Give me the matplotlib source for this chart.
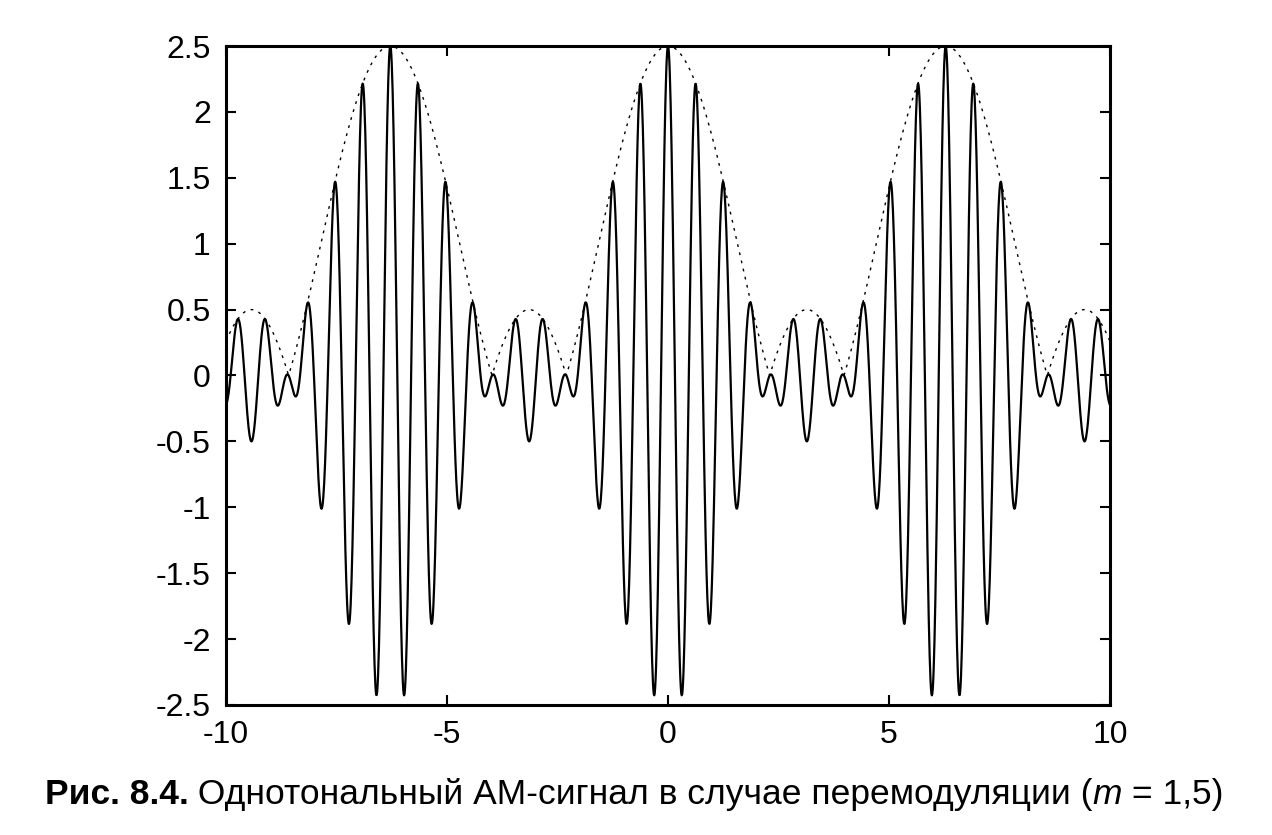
import matplotlib.pyplot as plt
import numpy as np

plt.rcParams['font.family'] = ['Liberation Sans', 'DejaVu Sans']
plt.rcParams['axes.unicode_minus'] = False

# signal parameters: single-tone AM, overmodulated
m = 1.5
w_mod = 1.0
w_car = 10.0
t_min, t_max = -10, 10
n_pts = 2001

x_ticks = [-10, -5, 0, 5, 10]
x_labels = ['-10', '-5', '0', '5', '10']
y_ticks = [-2.5, -2, -1.5, -1, -0.5, 0, 0.5, 1, 1.5, 2, 2.5]
y_labels = ['-2.5', '-2', '-1.5', '-1', '-0.5', '0', '0.5', '1', '1.5', '2', '2.5']

caption_bold = 'Рис. 8.4.'
caption_text = ' Однотональный АМ-сигнал в случае перемодуляции ('
caption_var = 'm'
caption_end = ' = 1,5)'

t = np.linspace(t_min, t_max, n_pts)
env = 1 + m * np.cos(w_mod * t)
s = env * np.cos(w_car * t)

fig = plt.figure(figsize=(12.72, 8.35), dpi=100)
ax = fig.add_axes([0.1777, 0.1557, 0.6949, 0.7892])

ax.plot(t, s, 'k-', lw=1.6)
ax.plot(t, np.abs(env), color='k', lw=1.0, linestyle=(0, (2, 4)))

ax.set_xlim(t_min, t_max)
ax.set_ylim(-2.5, 2.5)
ax.set_xticks(x_ticks)
ax.set_xticklabels(x_labels)
ax.set_yticks(y_ticks)
ax.set_yticklabels(y_labels)
ax.tick_params(direction='in', length=7, width=1.5, top=True, right=True,
               labelsize=23, pad=11)
for sp in ax.spines.values():
    sp.set_linewidth(2.2)

fs = 25.5
t1 = fig.text(0.035, 0.037, caption_bold, fontsize=fs, fontweight='bold')
t2 = ax.annotate(caption_text, xy=(1, 0), xycoords=t1, va='bottom', fontsize=fs)
t3 = ax.annotate(caption_var, xy=(1, 0), xycoords=t2, va='bottom', fontsize=fs,
                 style='italic')
t4 = ax.annotate(caption_end, xy=(1, 0), xycoords=t3, va='bottom', fontsize=fs)

fig.savefig('out.png', dpi=100)
